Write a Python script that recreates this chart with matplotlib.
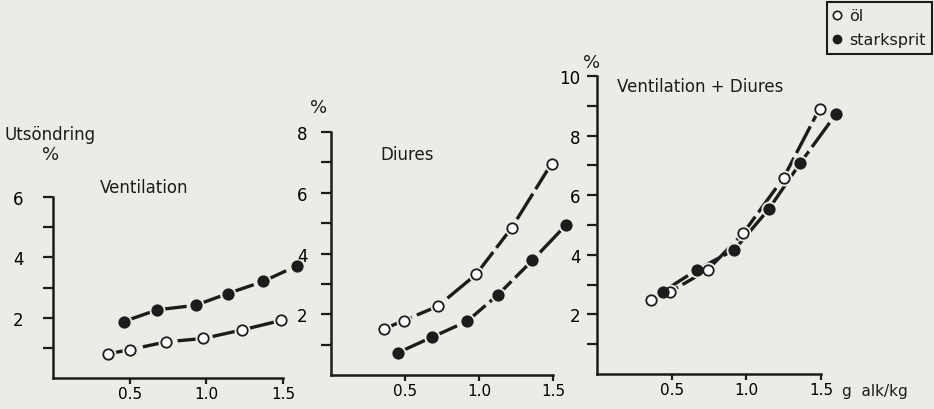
import numpy as np
import matplotlib.pyplot as plt
from matplotlib.lines import Line2D

# values (g alk/kg vs. excretion %)
vent_ol_x = [0.36, 0.50, 0.74, 0.98, 1.23, 1.49]
vent_ol_y = [0.80, 0.94, 1.20, 1.31, 1.59, 1.91]
vent_sp_x = [0.46, 0.68, 0.93, 1.14, 1.37, 1.59]
vent_sp_y = [1.87, 2.26, 2.41, 2.80, 3.20, 3.72]

diur_ol_x = [0.36, 0.49, 0.72, 0.98, 1.22, 1.49]
diur_ol_y = [1.52, 1.79, 2.26, 3.31, 4.84, 6.96]
diur_sp_x = [0.45, 0.68, 0.92, 1.13, 1.36, 1.59]
diur_sp_y = [0.73, 1.24, 1.77, 2.65, 3.77, 4.95]

tot_ol_x = [0.36, 0.49, 0.74, 0.98, 1.25, 1.49]
tot_ol_y = [2.49, 2.76, 3.49, 4.73, 6.59, 8.90]
tot_sp_x = [0.44, 0.67, 0.92, 1.15, 1.36, 1.60]
tot_sp_y = [2.76, 3.50, 4.17, 5.53, 7.07, 8.72]

x_ticks = [0.5, 1.0, 1.5]
x_labels = ["0.5", "1.0", "1.5"]

bg = "#ecebe6"
ink = "#1c1c1c"
W, H = 934, 410
plt.rcParams["font.family"] = ["DejaVu Sans"]

fig = plt.figure(figsize=(W / 100, H / 100), dpi=100, facecolor=bg)


def rect(x0, x1, y0, y1):
    # pixel box -> figure fraction
    return [x0 / W, 1 - y0 / H, (x1 - x0) / W, (y0 - y1) / H]


def series(ax, xs, ys, filled):
    ax.plot(xs, ys, color=ink, lw=2.4, ls=(0, (9, 1.6)), clip_on=False,
            dash_capstyle="butt", zorder=2)
    ax.plot(xs, ys, ls="none", marker="o", ms=10.5, mfc=bg, mec=bg,
            clip_on=False, zorder=3)
    ax.plot(xs, ys, ls="none", marker="o", ms=7.5,
            mfc=ink if filled else "white", mec=ink, mew=1.3,
            clip_on=False, zorder=4)


def panel(box, ymax, pad):
    ax = fig.add_axes(box)
    ax.set_facecolor("none")
    ax.set_xlim(0, 1.5)
    ax.set_ylim(0, ymax)
    for s in ["top", "right"]:
        ax.spines[s].set_visible(False)
    for s in ["left", "bottom"]:
        ax.spines[s].set_linewidth(1.8)
        ax.spines[s].set_color(ink)
    ax.set_xticks(x_ticks)
    ax.set_xticklabels(x_labels)
    ax.set_yticks(np.arange(2, ymax + 1, 2))
    ax.set_yticks(np.arange(1, ymax, 2), minor=True)
    ax.tick_params(axis="y", which="both", direction="out", length=7,
                   width=1.6, color=ink, labelsize=12, pad=pad)
    ax.tick_params(axis="x", direction="out", length=4, width=1.6,
                   color=ink, labelsize=11, pad=2)
    return ax


ax1 = panel(rect(53, 283, 379, 198), 6, 14)
series(ax1, vent_ol_x, vent_ol_y, False)
series(ax1, vent_sp_x, vent_sp_y, True)

ax2 = panel(rect(331, 553, 376, 133), 8, 10)
series(ax2, diur_ol_x, diur_ol_y, False)
series(ax2, diur_sp_x, diur_sp_y, True)

ax3 = panel(rect(597, 821, 375, 77), 10, 5)
series(ax3, tot_ol_x, tot_ol_y, False)
series(ax3, tot_sp_x, tot_sp_y, True)


def txt(x, y, s, size=12, **kw):
    fig.text(x / W, 1 - y / H, s, fontsize=size, color=ink,
             va="center", **kw)


txt(5, 135, "Utsöndring")
txt(42, 155, "%", size=13)
txt(100, 188, "Ventilation")
txt(310, 108, "%", size=13)
txt(380, 155, "Diures")
txt(583, 63, "%", size=13)
txt(617, 87, "Ventilation + Diures")
txt(842, 392, "g  alk/kg", size=11)

# legend box in the upper right corner
handles = [
    Line2D([], [], ls="none", marker="o", ms=6, mfc="white", mec=ink, mew=1.2),
    Line2D([], [], ls="none", marker="o", ms=6, mfc=ink, mec=ink),
]
leg = fig.legend(handles, ["öl", "starksprit"], loc="upper right",
                 bbox_to_anchor=(932 / W, 1 - 3 / H), frameon=True,
                 fancybox=False, fontsize=11.5, handlelength=0.5,
                 handletextpad=0.5, borderpad=0.4, labelspacing=0.55,
                 borderaxespad=0, edgecolor=ink, facecolor=bg)
leg.get_frame().set_linewidth(1.5)
leg.get_frame().set_alpha(None)
for t in leg.get_texts():
    t.set_color(ink)

fig.savefig("out.png", dpi=100, facecolor=bg)
